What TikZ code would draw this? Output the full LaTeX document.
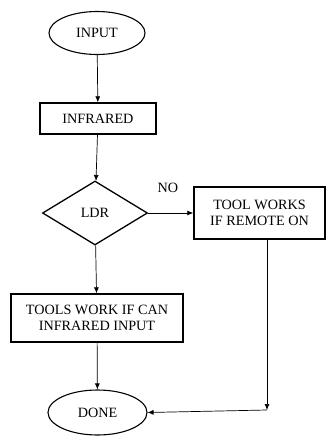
\documentclass[tikz,border=0pt]{standalone}
\usepackage{fontspec}
\setmainfont{Liberation Serif}
\usetikzlibrary{shapes.geometric,arrows.meta}
\begin{document}
\begin{tikzpicture}[x=1pt,y=-1pt,
  font=\fontsize{14.2}{16.7}\selectfont,
  term/.style={ellipse,draw,line width=1.1pt,inner sep=0pt},
  proc/.style={rectangle,draw,line width=1.4pt,inner sep=0pt,align=center},
  dec/.style={diamond,draw,line width=1.3pt,inner sep=0pt},
  arr/.style={-{Latex[length=6pt,width=5pt]},line width=0.7pt},
  ln/.style={line width=0.7pt}]
\useasboundingbox (0,0) rectangle (326,437);
\node[term,minimum width=96pt,minimum height=43pt] (in) at (97,33) {INPUT};
\node[proc,minimum width=116pt,minimum height=31pt] (ir) at (98,118.5) {INFRARED};
\node[dec,minimum width=105pt,minimum height=64pt] (ldr) at (95,213) {LDR};
\node[proc,minimum width=131pt,minimum height=52pt] (tw) at (259.5,213) {TOOL WORKS\\IF REMOTE ON};
\node[proc,minimum width=172pt,minimum height=48pt] (tc) at (97,318) {TOOLS WORK IF CAN\\INFRARED INPUT};
\node[term,minimum width=99pt,minimum height=45pt] (done) at (97.5,412.5) {DONE};
\node (no) at (168,188) {NO};
\coordinate (corner) at (267,410);
\draw[arr] (in) -- (ir);
\draw[arr] (ir) -- (ldr);
\draw[arr] (ldr.east) -- (tw.west);
\draw[arr] (ldr) -- (tc);
\draw[arr] (tc) -- (done);
\draw[arr] (tw.south -| corner) -- (corner);
\draw[arr] (corner) -- (done.east);
\end{tikzpicture}
\end{document}
